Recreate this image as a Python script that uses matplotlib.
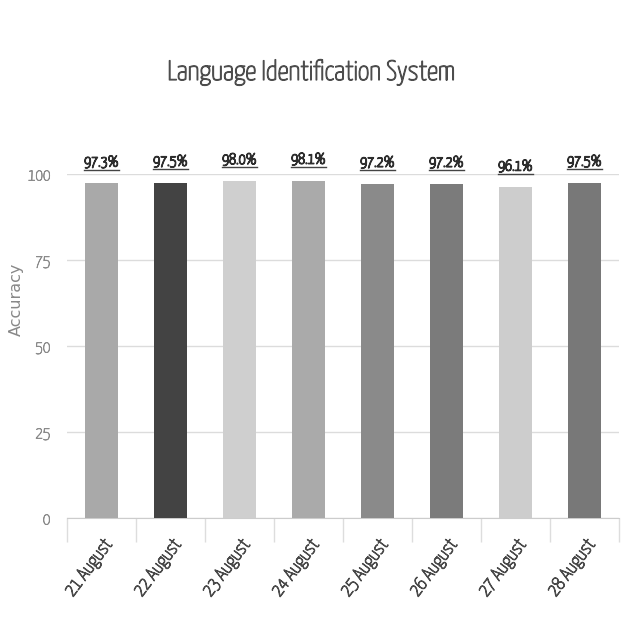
import numpy as np
import matplotlib
matplotlib.use("Agg")
import matplotlib.pyplot as plt
import matplotlib.patheffects as pe
from matplotlib.lines import Line2D

plt.rcParams['font.family'] = ['Yanone Kaffeesatz', 'DejaVu Sans']

# data
days = ['21 August', '22 August', '23 August', '24 August',
        '25 August', '26 August', '27 August', '28 August']
accuracy = [97.3, 97.5, 98.0, 98.1, 97.2, 97.2, 96.1, 97.5]
bar_colors = ['#a9a9a9', '#434343', '#cfcfcf', '#aaaaaa',
              '#8a8a8a', '#7b7b7b', '#cdcdcd', '#787878']
yticks = [0, 25, 50, 75, 100]


def heavy(c, w=0.7):
    # the installed Yanone is very thin, thicken it a bit
    return [pe.withStroke(linewidth=w, foreground=c)]


fig = plt.figure(figsize=(6.22, 6.31), dpi=100)
ax = fig.add_axes([67/622, 1 - 518/631, (619 - 67)/622, (518 - 174)/631])

x = np.arange(len(days))
bars = ax.bar(x, accuracy, width=0.48, color=bar_colors, zorder=3)

ax.set_xlim(-0.5, len(days) - 0.5)
ax.set_ylim(0, 100)
ax.set_yticks(yticks)
ax.set_yticklabels([str(t) for t in yticks], color='#8a8a8a', fontsize=12)
for t in ax.get_yticklabels():
    t.set_path_effects(heavy('#8a8a8a', 0.5))
ax.tick_params(axis='y', length=0, pad=12)
ax.grid(axis='y', color='#dcdcdc', linewidth=1, zorder=0)

ax.set_xticks(x)
ax.set_xticklabels(days, rotation=53, ha='right', rotation_mode='anchor',
                   color='#4a4a4a', fontsize=13.5)
for t in ax.get_xticklabels():
    t.set_path_effects(heavy('#4a4a4a', 0.8))
ax.tick_params(axis='x', length=0, pad=13)
ax.set_xticks(np.arange(len(days) + 1) - 0.5, minor=True)
ax.tick_params(axis='x', which='minor', length=17, color='#dddddd', width=1)

for s in ['top', 'right', 'left']:
    ax.spines[s].set_visible(False)
ax.spines['bottom'].set_color('#cccccc')

ax.set_ylabel('Accuracy', color='#888888', fontsize=11.5,
              family=['DejaVu Sans'])
ax.yaxis.set_label_coords(-0.078, 0.635)

fig.suptitle('Language Identification System', y=0.905, fontsize=20,
             color='#4d4d4d', path_effects=heavy('#4d4d4d', 0.9))

labels = []
for b, v in zip(bars, accuracy):
    t = ax.annotate(f'{v:.1f}%', (b.get_x() + b.get_width() / 2, v),
                    xytext=(0, 10), textcoords='offset points',
                    ha='center', va='bottom', fontsize=11,
                    color='#2e2e2e', zorder=5,
                    path_effects=heavy('#2e2e2e', 1.0))
    labels.append(t)

# underline the value labels
fig.canvas.draw()
r = fig.canvas.get_renderer()
for t in labels:
    bb = t.get_window_extent(r)
    fig.add_artist(Line2D([bb.x0 / 622, bb.x1 / 622],
                          [(bb.y0 - 0.5) / 631, (bb.y0 - 0.5) / 631],
                          color='#444444', linewidth=1.0))

fig.savefig('out.png', dpi=100)
